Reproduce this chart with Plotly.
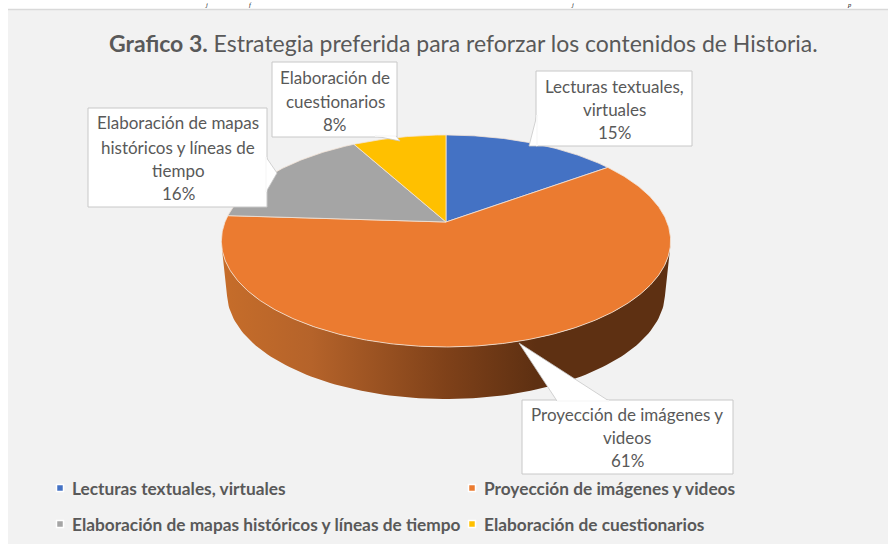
import numpy as np
import plotly.graph_objects as go

categories = ["Lecturas textuales, virtuales", "Proyección de imágenes y videos",
              "Elaboración de mapas históricos y líneas de tiempo", "Elaboración de cuestionarios"]
values = [15, 61, 16, 8]
colors = ["#4472C4", "#EB7B30", "#A5A5A5", "#FFC000"]
label_lines = [["Lecturas textuales,", "virtuales"],
               ["Proyección de imágenes y", "videos"],
               ["Elaboración de mapas", "históricos y líneas de", "tiempo"],
               ["Elaboración de", "cuestionarios"]]
cropped_glyphs = ["j", "f", "j", "p"]

FONT = "Lato"
GREY = "#595959"
CX, CY, R, S, A, DEPTH = 446, 222, 221, 102.6, 0.179, 52


def project(deg, scale=1.0, dy=0.0):
    t = np.radians(deg)
    u, v = np.sin(t), np.cos(t)
    w = 1 + A * v
    return CX + scale * R * u / w, CY - S * v / w + dy


fig = go.Figure()

# side wall of the pie
th = np.linspace(102, 258, 120)
x1, y1 = project(th)
x2, y2 = project(th[::-1], 0.975, DEPTH)
fig.add_trace(go.Scatter(
    x=np.r_[x1, x2], y=np.r_[y1, y2], mode="lines", fill="toself", line=dict(width=0),
    fillgradient=dict(type="horizontal",
                      colorscale=[[0, "#C66D2A"], [0.2, "#B5632A"], [0.5, "#7F4119"],
                                  [0.7, "#5E3012"], [1, "#5E3012"]]),
    hoverinfo="skip", showlegend=False))

# top face slices
start = 0.0
for name, val, col in zip(categories, values, colors):
    sweep = val / sum(values) * 360
    th = np.linspace(start, start + sweep, max(int(sweep * 2), 4))
    xs, ys = project(th)
    fig.add_trace(go.Scatter(
        x=np.r_[CX, xs, CX], y=np.r_[CY, ys, CY], mode="lines", fill="toself", fillcolor=col,
        line=dict(color="#F4E4D8", width=0.8), name=name, showlegend=False, hoverinfo="name"))
    start += sweep

shapes = []
annotations = []

# background
shapes.append(dict(type="rect", xref="x", yref="y", x0=8, x1=888, y0=10, y1=544, layer="below",
                   fillcolor="#F2F2F2", line=dict(width=0)))
shapes.append(dict(type="line", xref="x", yref="y", x0=8, x1=888, y0=9.5, y1=9.5, layer="below",
                   line=dict(color="#D9D9D9", width=1.5)))

# small glyphs standing in for the page text cropped above the chart
for glyph, gx in zip(cropped_glyphs, [206, 250, 572, 849]):
    annotations.append(dict(text=f"<i>{glyph}</i>", x=gx, y=9, xref="x", yref="y", showarrow=False,
                            xanchor="center", yanchor="bottom", borderpad=0,
                            font=dict(family="Liberation Serif", size=6.5, color="#111111")))

# callouts: box (x0, y0, x1, y1), pointer polygon, text centre x, text y for each line
callouts = [
    ((536, 71, 692, 146), [(537, 115), (529, 146), (537, 146)], 614, [86, 109, 132], 0),
    ((522, 400, 733, 474), [(557, 401), (519, 343), (609, 401)], 627, [414, 437, 460], 1),
    ((88, 108, 267, 207), [(266, 157), (277, 173), (266, 192)], 178, [122, 147, 170, 193], 2),
    ((272, 62, 397, 137), [(375, 136), (400, 141), (396, 136)], 335, [77, 101, 124], 3),
]
for box, ptr, tx, tys, idx in callouts:
    shapes.append(dict(type="rect", xref="x", yref="y", x0=box[0], y0=box[1], x1=box[2], y1=box[3],
                       fillcolor="white", line=dict(color="#C8C8C8", width=1), layer="above"))
    path = "M " + " L ".join(f"{a},{b}" for a, b in ptr) + " Z"
    shapes.append(dict(type="path", xref="x", yref="y", path=path, fillcolor="white",
                       line=dict(color="#C8C8C8", width=0.8), layer="above"))
    a, b = ptr[0], ptr[-1]
    shapes.append(dict(type="line", xref="x", yref="y", x0=a[0], y0=a[1], x1=b[0], y1=b[1],
                       line=dict(color="white", width=1.5), layer="above"))
    lines = label_lines[idx] + [f"{values[idx]}%"]
    for line, ty in zip(lines, tys):
        annotations.append(dict(text=line, x=tx, y=ty, xref="x", yref="y", showarrow=False,
                                xanchor="center", yanchor="middle",
                                font=dict(family=FONT, size=17, color=GREY)))

# title
annotations.append(dict(text="<b>Grafico 3.</b> Estrategia preferida para reforzar los contenidos de Historia.",
                        x=463, y=43, xref="x", yref="y", showarrow=False, xanchor="center", yanchor="middle",
                        font=dict(family=FONT, size=23, color=GREY)))

# legend
legend_x = [60, 472, 60, 472]
legend_y = [488, 488, 524, 524]
fig.add_trace(go.Scatter(x=legend_x, y=legend_y, mode="markers", showlegend=False, hoverinfo="skip",
                         marker=dict(symbol="square", size=7, color=colors, line=dict(color="white", width=1.5))))
for name, lx, ly in zip(categories, legend_x, legend_y):
    annotations.append(dict(text=f"<b>{name}</b>", x=lx + 10, y=ly, xref="x", yref="y", showarrow=False,
                            xanchor="left", yanchor="middle",
                            font=dict(family=FONT, size=17.3, color=GREY)))

fig.update_layout(
    width=888, height=544, autosize=False,
    margin=dict(l=0, r=0, t=0, b=0),
    paper_bgcolor="white", plot_bgcolor="rgba(0,0,0,0)",
    xaxis=dict(range=[0, 888], visible=False, fixedrange=True),
    yaxis=dict(range=[544, 0], visible=False, fixedrange=True),
    shapes=shapes, annotations=annotations, showlegend=False,
)
fig.write_html("out.html", config={"displayModeBar": False},
               default_width="888px", default_height="544px",
               post_script="document.body.style.margin='0';")
